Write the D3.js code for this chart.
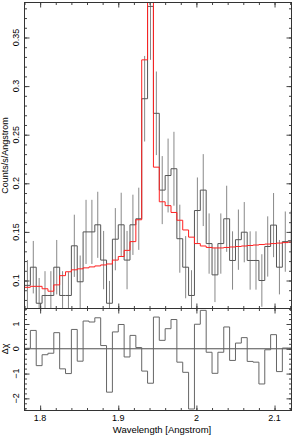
<!DOCTYPE html>
<html>
<head>
<meta charset="utf-8">
<script src="https://cdn.jsdelivr.net/npm/d3@7"></script>
<style>
  body { margin: 0; background: #fff; }
  svg { display: block; }
  text { font-family: "Liberation Sans", Arial, Helvetica, sans-serif; fill: #000; }
</style>
</head>
<body>
<div id="chart"></div>
<script>
// Bin edges (Angstrom), 46 bins
const binEdges = [1.7800, 1.7875, 1.7950, 1.8025, 1.8100, 1.8175, 1.8250, 1.8325, 1.8400, 1.8475,
                  1.8550, 1.8625, 1.8700, 1.8775, 1.8850, 1.8925, 1.9000, 1.9075, 1.9150, 1.9225,
                  1.9300, 1.9375, 1.9450, 1.9525, 1.9600, 1.9675, 1.9750, 1.9825, 1.9900, 1.9975,
                  2.0050, 2.0125, 2.0200, 2.0275, 2.0350, 2.0425, 2.0500, 2.0575, 2.0650, 2.0725,
                  2.0800, 2.0875, 2.0950, 2.1025, 2.1100, 2.1175, 2.1250];

// Observed counts/s/Angstrom
const dataValues = [0.095, 0.1137, 0.0766, 0.0846, 0.0846, 0.1137, 0.0846, 0.0846, 0.1357, 0.0987,
                    0.150, 0.150, 0.1573, 0.121, 0.0766, 0.1425, 0.1573, 0.121, 0.1573, 0.1635,
                    0.287, 0.382, 0.272, 0.193, 0.208, 0.215, 0.143, 0.1137, 0.0846, 0.172,
                    0.193, 0.138, 0.1058, 0.138, 0.1635, 0.1206, 0.142, 0.1497, 0.1206, 0.1206,
                    0.100, 0.135, 0.157, 0.1137, 0.140, 0.141];

// 1-sigma errors
const dataErrors = [0.026, 0.027, 0.026, 0.025, 0.025, 0.028, 0.025, 0.024, 0.032, 0.027,
                    0.033, 0.033, 0.034, 0.030, 0.023, 0.032, 0.033, 0.030, 0.031, 0.032,
                    0.044, 0.055, 0.043, 0.035, 0.038, 0.038, 0.035, 0.032, 0.026, 0.034,
                    0.037, 0.031, 0.028, 0.031, 0.034, 0.030, 0.031, 0.031, 0.030, 0.030,
                    0.027, 0.031, 0.033, 0.028, 0.031, 0.031];

// Model (red)
const modelValues = [0.093, 0.094, 0.094, 0.0915, 0.089, 0.0955, 0.105, 0.109, 0.111, 0.112,
                     0.113, 0.114, 0.115, 0.116, 0.117, 0.121, 0.1247, 0.131, 0.140, 0.1625,
                     0.327, 0.60, 0.2166, 0.181, 0.177, 0.170, 0.162, 0.152, 0.1446, 0.138,
                     0.1355, 0.134, 0.1335, 0.1335, 0.134, 0.1345, 0.135, 0.1355, 0.136, 0.1365,
                     0.137, 0.1375, 0.138, 0.1385, 0.139, 0.1395];

// Residuals (delta chi)
const residValues = [0.02, 0.74, -0.68, -0.24, -0.18, 0.65, -0.81, -1.0, 0.78, -0.5,
                     1.12, 1.08, 1.25, 0.13, -1.75, 0.68, 0.98, -0.33, 0.54, 0.05,
                     -0.9, -1.39, 1.28, 0.34, 0.81, 1.18, -0.54, -0.95, -2.43, 0.99,
                     1.55, -0.14, -0.99, -0.14, 0.88, -0.47, 0.23, 0.45, -0.51, -0.54,
                     -1.42, -0.04, 0.57, -0.92, 0.03, 0.03];

// Ticks
const xMajor = [1.8, 1.9, 2.0, 2.1];
const xLabels = ['1.8', '1.9', '2', '2.1'];
const yMajor = [0.1, 0.15, 0.2, 0.25, 0.3, 0.35];
const yLabels = ['0.1', '0.15', '0.2', '0.25', '0.3', '0.35'];
const rMajor = [1, 0, -1, -2];
const rLabels = ['1', '0', '\u22121', '\u22122'];

const width = 293, height = 438;
const L = 24.5, R = 291.5, T = 2.5, M = 308.5, B = 410.5;

const svg = d3.select('#chart').append('svg')
    .attr('width', width)
    .attr('height', height);

const x = d3.scaleLinear().domain([1.78, 2.1217]).range([L, R]);
const yTop = d3.scaleLinear().domain([0.0712, 0.386]).range([M, T]);
const yRes = d3.scaleLinear().domain([-2.49, 1.625]).range([B, M]);

// clip paths
const defs = svg.append('defs');
defs.append('clipPath').attr('id', 'clipTop')
    .append('rect').attr('x', L).attr('y', T).attr('width', R - L).attr('height', M - T);
defs.append('clipPath').attr('id', 'clipRes')
    .append('rect').attr('x', L).attr('y', M).attr('width', R - L).attr('height', B - M);

function stepPoints(vals) {
    const pts = [];
    vals.forEach((v, i) => {
        pts.push([binEdges[i], v]);
        pts.push([binEdges[i + 1], v]);
    });
    return pts;
}

// ---- top panel ----
const gTop = svg.append('g').attr('clip-path', 'url(#clipTop)');

// error bars
gTop.selectAll('line.err')
    .data(dataValues)
    .enter()
    .append('line')
    .attr('class', 'err')
    .attr('x1', (d, i) => x((binEdges[i] + binEdges[i + 1]) / 2))
    .attr('x2', (d, i) => x((binEdges[i] + binEdges[i + 1]) / 2))
    .attr('y1', (d, i) => yTop(d - dataErrors[i]))
    .attr('y2', (d, i) => yTop(d + dataErrors[i]))
    .attr('stroke', '#888')
    .attr('stroke-width', 1);

const lineTop = d3.line().x(d => x(d[0])).y(d => yTop(d[1]));

gTop.append('path')
    .datum(stepPoints(dataValues))
    .attr('d', lineTop)
    .attr('fill', 'none')
    .attr('stroke', '#555')
    .attr('stroke-width', 1);

gTop.append('path')
    .datum(stepPoints(modelValues))
    .attr('d', lineTop)
    .attr('fill', 'none')
    .attr('stroke', '#ff2020')
    .attr('stroke-width', 1);

// ---- residual panel ----
const gRes = svg.append('g').attr('clip-path', 'url(#clipRes)');

gRes.append('line')
    .attr('x1', L).attr('x2', R)
    .attr('y1', yRes(0)).attr('y2', yRes(0))
    .attr('stroke', '#222')
    .attr('stroke-width', 0.8);

const lineRes = d3.line().x(d => x(d[0])).y(d => yRes(d[1]));
gRes.append('path')
    .datum(stepPoints(residValues))
    .attr('d', lineRes)
    .attr('fill', 'none')
    .attr('stroke', '#666')
    .attr('stroke-width', 1);

// ---- axes (inward ticks on all sides) ----
const xMinor = d3.range(1.78, 2.121, 0.02);
const yMinor = d3.range(0.08, 0.386, 0.01);
const rMinor = d3.range(-2.4, 1.61, 0.2);

function addAxis(axisFn, scale, values, size, transform) {
    svg.append('g')
        .attr('transform', transform)
        .call(axisFn(scale).tickValues(values).tickSize(size).tickFormat(''))
        .call(g => g.select('.domain').remove())
        .call(g => g.selectAll('line').attr('stroke', '#444'));
}

const majorLen = -5, minorLen = -2.5;
// top panel
addAxis(d3.axisLeft, yTop, yMinor, minorLen, `translate(${L},0)`);
addAxis(d3.axisLeft, yTop, yMajor, majorLen, `translate(${L},0)`);
addAxis(d3.axisRight, yTop, yMinor, minorLen, `translate(${R},0)`);
addAxis(d3.axisRight, yTop, yMajor, majorLen, `translate(${R},0)`);
addAxis(d3.axisTop, x, xMinor, minorLen, `translate(0,${T})`);
addAxis(d3.axisTop, x, xMajor, majorLen, `translate(0,${T})`);
addAxis(d3.axisBottom, x, xMinor, minorLen, `translate(0,${M})`);
addAxis(d3.axisBottom, x, xMajor, majorLen, `translate(0,${M})`);
// residual panel
addAxis(d3.axisLeft, yRes, rMinor, minorLen, `translate(${L},0)`);
addAxis(d3.axisLeft, yRes, rMajor, majorLen, `translate(${L},0)`);
addAxis(d3.axisRight, yRes, rMinor, minorLen, `translate(${R},0)`);
addAxis(d3.axisRight, yRes, rMajor, majorLen, `translate(${R},0)`);
addAxis(d3.axisTop, x, xMinor, minorLen, `translate(0,${M})`);
addAxis(d3.axisTop, x, xMajor, majorLen, `translate(0,${M})`);
addAxis(d3.axisBottom, x, xMinor, minorLen, `translate(0,${B})`);
addAxis(d3.axisBottom, x, xMajor, majorLen, `translate(0,${B})`);

// frames
svg.append('rect')
    .attr('x', L).attr('y', T).attr('width', R - L).attr('height', B - T)
    .attr('fill', 'none').attr('stroke', '#333').attr('stroke-width', 1);
svg.append('line')
    .attr('x1', L).attr('x2', R).attr('y1', M).attr('y2', M)
    .attr('stroke', '#333').attr('stroke-width', 1);

// tick labels
const fs = 9;
svg.selectAll('text.ylab')
    .data(yMajor)
    .enter()
    .append('text')
    .attr('class', 'ylab')
    .attr('transform', d => `translate(18.5,${yTop(d)}) rotate(-90)`)
    .attr('text-anchor', 'middle')
    .attr('font-size', fs)
    .text((d, i) => yLabels[i]);

svg.selectAll('text.rlab')
    .data(rMajor)
    .enter()
    .append('text')
    .attr('class', 'rlab')
    .attr('transform', d => `translate(18.5,${yRes(d)}) rotate(-90)`)
    .attr('text-anchor', 'middle')
    .attr('font-size', fs)
    .text((d, i) => rLabels[i]);

svg.selectAll('text.xlab')
    .data(xMajor)
    .enter()
    .append('text')
    .attr('class', 'xlab')
    .attr('x', d => x(d))
    .attr('y', 420.5)
    .attr('text-anchor', 'middle')
    .attr('font-size', fs)
    .text((d, i) => xLabels[i]);

// axis titles
svg.append('text')
    .attr('x', (L + R) / 2 + 4)
    .attr('y', 433)
    .attr('text-anchor', 'middle')
    .attr('font-size', 9.5)
    .text('Wavelength [Angstrom]');

svg.append('text')
    .attr('transform', `translate(7.5,${(T + M) / 2}) rotate(-90)`)
    .attr('text-anchor', 'middle')
    .attr('font-size', 9)
    .text('Counts/s/Angstrom');

svg.append('text')
    .attr('transform', `translate(8,${yRes(0)}) rotate(-90)`)
    .attr('text-anchor', 'middle')
    .attr('font-size', 9)
    .text('Δχ');
</script>
</body>
</html>
